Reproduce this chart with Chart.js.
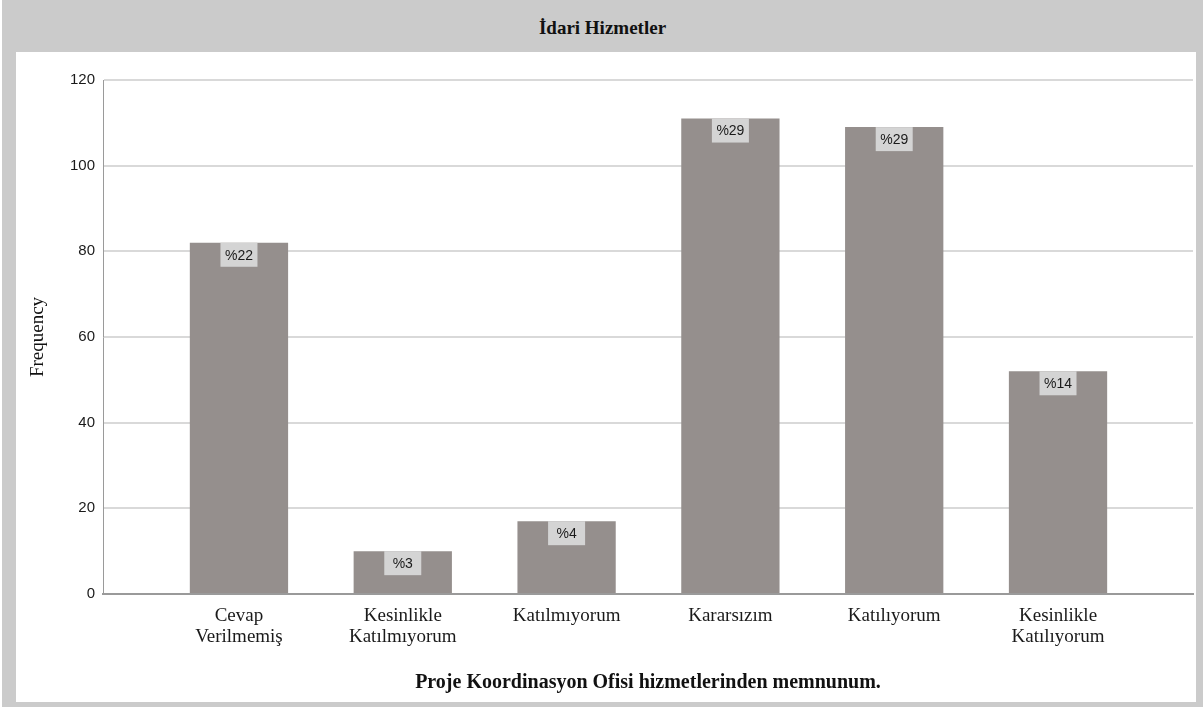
<!DOCTYPE html>
<html>
<head>
<meta charset="utf-8">
<script src="https://cdn.jsdelivr.net/npm/chart.js@4/dist/chart.umd.min.js"></script>
<style>
  body { margin: 0; background: #fff; }
  #frame { position: absolute; left: 2px; top: 0; width: 1201px; height: 707px; background: #cbcbcb; }
  #title { position: absolute; left: 0; top: 0; width: 100%; height: 52px; text-align: center;
           font: bold 19px 'Liberation Serif', serif; line-height: 56px; color: #111; }
  #plot { position: absolute; left: 14px; top: 52px; width: 1180px; height: 650px; background: #fff; }
</style>
</head>
<body>
<div id="frame">
  <div id="title">İdari Hizmetler</div>
  <div id="plot"><canvas id="chart" width="1180" height="650"></canvas></div>
</div>
<script>
const categories = [
  ['Cevap', 'Verilmemiş'],
  ['Kesinlikle', 'Katılmıyorum'],
  ['Katılmıyorum'],
  ['Kararsızım'],
  ['Katılıyorum'],
  ['Kesinlikle', 'Katılıyorum']
];
const frequency = [82, 10, 17, 111, 109, 52];
const percentLabels = ['%22', '%3', '%4', '%29', '%29', '%14'];
const yTicks = [0, 20, 40, 60, 80, 100, 120];

const barColor = '#958f8d';

// percentage boxes drawn on top of each bar
const percentBoxes = {
  id: 'percentBoxes',
  afterDatasetsDraw(chart) {
    const ctx = chart.ctx;
    const meta = chart.getDatasetMeta(0);
    ctx.save();
    ctx.font = '14px "Liberation Sans", Arial, sans-serif';
    ctx.textAlign = 'center';
    ctx.textBaseline = 'middle';
    meta.data.forEach(function(bar, i) {
      const w = 37, h = 24;
      ctx.fillStyle = '#d4d4d4';
      ctx.fillRect(bar.x - w / 2, bar.y, w, h);
      ctx.fillStyle = '#1a1a1a';
      ctx.fillText(percentLabels[i], bar.x, bar.y + h / 2 + 1);
    });
    ctx.restore();
  }
};

new Chart(document.getElementById('chart'), {
  type: 'bar',
  data: {
    datasets: [{
      data: frequency.map(function(v, i) { return { x: i, y: v }; }),
      backgroundColor: barColor,
      borderWidth: 0,
      barPercentage: 0.6,
      categoryPercentage: 1
    }]
  },
  options: {
    responsive: false,
    devicePixelRatio: 1,
    animation: false,
    layout: { padding: { left: 0, right: 3, top: 28, bottom: 0 } },
    plugins: {
      legend: { display: false },
      tooltip: { enabled: false }
    },
    scales: {
      x: {
        type: 'linear',
        offset: false,
        min: -0.83,
        max: 5.824,
        grid: { display: false, offset: false, drawTicks: false },
        border: { display: true, color: '#9a9a9a', width: 2 },
        afterBuildTicks: function(scale) {
          scale.ticks = categories.map(function(c, i) { return { value: i }; });
        },
        afterFit: function(scale) { scale.height = 108; },
        ticks: {
          autoSkip: false,
          maxRotation: 0,
          padding: 11,
          color: '#1a1a1a',
          font: { family: "'Liberation Serif', serif", size: 19, lineHeight: 1.12 },
          callback: function(value) { return categories[value] || ''; }
        },
        title: {
          display: true,
          text: 'Proje Koordinasyon Ofisi hizmetlerinden memnunum.',
          color: '#111',
          font: { family: "'Liberation Serif', serif", size: 20, weight: 'bold', lineHeight: 1.2 },
          padding: { top: 0, bottom: 7 }
        }
      },
      y: {
        min: 0,
        max: 120,
        afterBuildTicks: function(scale) {
          scale.ticks = yTicks.map(function(v) { return { value: v }; });
        },
        afterFit: function(scale) { scale.width = 87; },
        grid: { color: '#d9d9d9', lineWidth: 2, drawTicks: false },
        border: { display: true, color: '#9a9a9a', width: 1 },
        ticks: {
          padding: 8,
          color: '#1a1a1a',
          font: { family: "'Liberation Sans', Arial, sans-serif", size: 15 }
        },
        title: {
          display: true,
          text: 'Frequency',
          color: '#111',
          font: { family: "'Liberation Serif', serif", size: 19, lineHeight: 1.2 },
          padding: { top: 11, bottom: 0 }
        }
      }
    }
  },
  plugins: [percentBoxes]
});
</script>
</body>
</html>
